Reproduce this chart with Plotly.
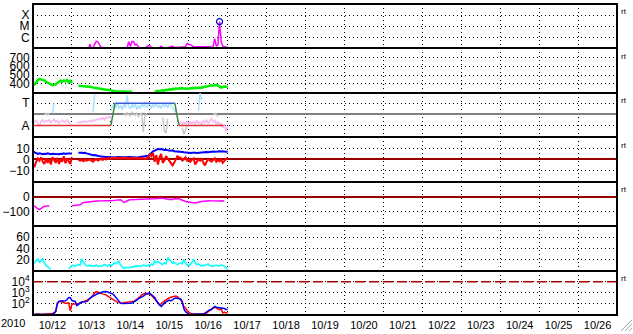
import plotly.graph_objects as go
from datetime import datetime, timedelta

# ---------------- data (hourly, hour 0 = 2010-10-12 00:00 UT) ----------------
BASE = datetime(2010, 10, 12)
X_START = "2010-10-12 00:00"
X_END = "2010-10-27 00:00"

xray_flux = [
    6e-8, 5e-8, 6e-8, 5e-8, 6e-8, 5e-8, 6e-8, 5e-8, 6e-8, 5e-8,
    6e-8, 5e-8, 6e-8, 5e-8, 6e-8, 5e-8, 6e-8, 5e-8, 6e-8, 5e-8,
    6e-8, 5e-8, 6e-8, 5e-8, 6e-8, 5e-8, 6e-8, 5e-8, 1.3e-7, 6e-8,
    5e-8, 6e-8, 5e-8, 6e-8, 5e-8, 2.4e-7, 1.1e-7, 1.2e-7, 2.5e-7, 4.5e-7,
    3.8e-7, 2.0e-7, 1.2e-7, 1.3e-7, 1.1e-7, 1.1e-7, 1.2e-7, 6e-8, 5e-8, 6e-8,
    5e-8, 6e-8, 5e-8, 6e-8, 5e-8, 6e-8, 5e-8, 6e-8, 1.1e-7, 4.0e-7,
    1.5e-7, 4.2e-7, 4.0e-7, 2.0e-7, 2.3e-7, 1.3e-7, 1.2e-7, 1.1e-7, 1.2e-7, 1.1e-7,
    1.3e-7, 1.8e-7, 1.7e-7, 1.2e-7, 1.1e-7, 1.1e-7, 1.1e-7, 1.2e-7, 1.1e-7, 1.6e-7,
    1.1e-7, 1.1e-7, 1.2e-7, 1.1e-7, 1.2e-7, 1.3e-7, 1.6e-7, 1.2e-7, 1.2e-7, 1.3e-7,
    1.2e-7, 1.3e-7, 1.2e-7, 1.3e-7, 1.4e-7, 2.8e-7, 2.5e-7, 2.2e-7, 1.8e-7, 1.4e-7,
    1.4e-7, 1.5e-7, 1.6e-7, 1.5e-7, 1.5e-7, 1.6e-7, 1.5e-7, 1.4e-7, 1.5e-7, 1.4e-7,
    1.3e-7, 1.4e-7, 7.7e-7, 1.6e-7, 2.2e-7, 2.6e-5, 4.0e-7, 1.6e-7, 1.4e-7, 1.3e-7,
    1.3e-7,
]
flare_hour = [115]
flare_flux = [2.6e-5]

wind_speed = [
    386, 395, 420, 445, 455, 450, 448, 440, 425, 415,
    400, 392, 386, 390, 395, 410, 430, 438, 425, 440,
    430, 445, 420, 435, 410, None, None, None, 380, 378,
    382, 376, 378, 372, 375, 370, 365, 360, 356, 352,
    350, 345, 345, 340, 338, 336, 335, 333, 330, 325,
    320, 316, 314, 313, 314, 312, 314, 313, 314, 312,
    314, 313, None, None, None, None, None, None, None, None,
    None, None, None, None, None, 314, 318, 322, 316, 326,
    330, 325, 335, 332, 340, 336, 345, 340, 350, 345,
    352, 348, 355, 346, 350, 345, 350, 348, 355, 352,
    358, 354, 360, 356, 360, 365, 370, 372, 378, 382,
    385, 380, 388, 390, 382, 375, 360, 365, 372, 368,
    372,
]

# sector (toward / away): observed angle segments (start hour, values)
away_segments = [
    (0, [-0.6, -0.7, -0.55, -0.8, -1.1, -0.6, -0.5, -0.7, -0.55, -0.65, -0.5, -0.75,
         -0.6, -0.45, -0.7, -0.55, -0.8, -0.6, -0.5, -0.7, -0.65, -0.5, -0.75, -0.9]),
    (27, [-0.8, -0.7, -0.75, -0.65, -0.7, -0.6, -0.7, -0.65, -0.55, -0.7, -0.5,
          -0.6, -0.45, -0.5, -0.35, -0.45, -0.3, -0.5, -0.25, -0.35, -0.2, -0.3]),
    (89, [-0.5, -0.8, -0.7, -0.9, -0.75, -0.85, -0.6, -0.9, -0.7, -0.8, -0.65, -0.9,
          -0.55, -0.8, -0.7, -0.95, -0.6, -0.75, -0.5, -0.85, -0.6, -0.4, -0.7, -0.55,
          -0.9, -0.65, -1.0, -0.8, -1.2, -0.9, -1.5, -1.1]),
]
toward_segments = [
    (12, [0.1, 1.0]),
    (37, [0.2, 1.8]),
    (48, [0.3, 0.7, 0.9, 0.6, 1.0, 0.5, 0.8, 0.4, 0.9, 0.6, 1.7, 0.7, 0.5, 0.9,
          0.6, 1.0, 0.4, 0.8, 0.5, 0.9, 0.7, 1.1, 0.6, 0.8, 1.0, 0.5, 0.9, 0.7,
          1.0, 0.6, 0.8, 0.5, 1.0, 0.7, 0.9, 0.6, 1.0, 0.8, 0.6, 0.4, 0.2]),
    (102, [0.3, 1.9, 1.3]),
]
mixed_segments = [
    (7, [-0.1, 0.1, -0.05, 0.1]),
    (56, [0.1, -0.1, 0.15, 0.0, -0.15, 0.2, 0.05, -0.1, 0.1, -0.2, 0.0, 0.1, -1.6, -0.1, 0.1]),
    (80, [-0.3, -1.5, -1.7, -0.4]),
    (92, [-1.2, -1.8, -1.4, -1.1]),
    (111, [-0.1, 0.1, 0.0, -0.2]),
]
# predicted sector polarity (hour, level: 1 = T, -1 = A)
sector_hour = [0, 48, 50.6, 87.4, 89.9, 117.4]
sector_level = [-1, -1, 1, 1, -1, -1]

bt = [
    7, 6.5, 6, 5, 5.5, 5, 4.8, 5.2, 5, 5.5,
    5, 4.8, 5.2, 5, 5.3, 5, 4.8, 5.2, 5, 5.5,
    5, 5.3, 5.5, 5.2, 5.5, None, None, None, 6, 6.2,
    6, 5.8, 6, 5.5, 5, 4.5, 4, 3.8, 4, 3.5,
    3.2, 3, 2.8, 2.5, 2.4, 2.2, 2.3, 2.1, 2, 2.1,
    2.0, 1.9, 2.2, 2.0, 1.8, 2.0, 2.1, 1.9, 2.0, 2.2,
    2.0, 1.9, 2.1, 2.0, 1.8, 2.0, 2.2, 2.1, 2.3, 2.5,
    2.8, 3.5, 4.5, 6, 7.4, 8, 9, 9.5, 9.2, 9.5,
    9, 8.5, 8.8, 8.2, 8, 7.8, 8.2, 7.5, 7.4, 7.6,
    7.2, 7, 6.8, 6.5, 6.2, 6, 6.2, 5.8, 6, 6.2,
    6, 5.8, 6, 6.3, 6.5, 6.2, 6.5, 6.8, 6.5, 6.8,
    7, 7.2, 7, 7.4, 7.2, 7.5, 7.2, 7, 7.2, 7,
    7,
]
bz = [
    -4.5, -6, -2, 1, -1, 2, -2, -4, 1, -3,
    0, -4.5, 2, -1, -3, 1.5, -4, 0, -2, 3,
    -3.5, 1, -1.5, -4, 2, None, None, None, -0.5, -1,
    -0.3, -1.5, -0.5, -1, -0.5, 0, -1, -2, -0.5, 0.5,
    -1, 0, 0.5, -0.5, 1, 0, 1.5, 0.5, 1.2, 1.5,
    1, 1.8, 1.2, 1.5, 1, 1.6, 1.2, 1.8, 1, 1.5,
    0.5, 1.2, 1.8, 1.4, 0.8, 1.5, 1, 1.6, 1.2, 0.5,
    1.5, 2, 4.5, 3, 6, -2, 4, -4.5, 2, 5,
    -3, -1, 3, 1, -2, -4, -5.3, -3, 0, 3,
    2, 1.5, -1, 0, 2, -1, 0.5, -2, 0, 1,
    -4.5, -2, 0.5, -1, 1, -3, -5.3, -2, 0.5, -1,
    -2, -0.6, 1, -2, -0.5, -1.5, 0, -3, -1, 0.5,
    1.5,
]

dst = [
    -62, -65, -75, -82, -88, -80, -70, -65, -66, -62,
    -62, None, None, None, None, None, None, None, None, None,
    None, None, None, None, -62, -60, -62, -60, -58, -56,
    -48, -40, -40, -38, -36, -35, -34, -33, -32, -30,
    -30, -28, -28, -29, -28, -29, -30, -30, -30, -28,
    -26, -24, -22, -22, -22, -30, -40, -35, -28, -24,
    -22, -22, -20, -20, -18, -18, -17, -17, -18, -17,
    -17, -16, -17, -17, -16, -15, -14, -12, -11, -11,
    -12, -15, -18, -22, -20, -18, -20, -15, -14, -13,
    -14, -20, -26, -30, -33, -36, -38, -40, -42, -44,
    -44, -40, -36, -34, -33, -32, -30, -29, -28, -28,
    -29, -30, -28, -29, -30, -30, -29, -30, -30, None,
    None,
]

index6 = [
    12, 14, 18, 21, 15, 18, 21, 14, 9, 7,
    3.5, 2, None, None, None, None, None, None, None, None,
    None, None, 3.5, 7, 9, 10, 8, 9.5, 11, 9,
    21.5, 15, 12, 9, 8, 10, 7.6, 9, 8, 10,
    7.6, 8, 9, 8.5, 11, 9, 8, 11, 9, 10,
    14, 12, 15, 17, 10, 6, 4, 5, 6, 5,
    5.5, 7, 6, 8, 7.6, 9, 7, 8, 10, 9,
    8, 10, 9, 12, 10, 18, 14, 16, 14, 12,
    10.5, 14, 12, 23, 19, 17, 13, 15, 12, 11,
    12, 14, 12, 19.7, 14, 10, 9, 11, 15, 20.5,
    14, 10.5, 12, 9, 8.5, 10, 9, 10.5, 12, 9,
    8, 7.6, 9, 10, 8, 9, 10, 9, 8, 5,
    2,
]

flux_red = [
    12, 11, 12, 13, 12, 11, 12, 12, 13, 12,
    12, 13, 14, 16, 20, 95, 166, 166, 140, 120,
    117, 117, 125, 24, 95, 100, 95, 100, 110, 125,
    145, 150, 160, 200, 250, 282, 400, 700, 1000, 1290,
    1200, 1000, 900, 800, 741, 650, 500, 400, 331, 260,
    200, 160, 145, 130, 117, 117, 125, 130, 140, 145,
    145, 150, 170, 200, 250, 320, 450, 646, 800, 912,
    850, 800, 741, 600, 400, 234, 160, 120, 83, 100,
    150, 186, 230, 300, 350, 398, 450, 501, 501, 450,
    350, 234, 150, 59, 40, 25, 18, 15, 12, 12,
    13, 12, 12, 13, 12, 14, 13, 15, 20, 25,
    36, 45, 48, 40, 36, 30, 36, 15, 18, 15,
    16,
]
flux_blue = [
    11, 10.5, 11, 11.5, 11, 10.5, 11, 11, 11.5, 11,
    11, 11, 11.5, 14, 21, 120, 166, 186, 190, 180,
    186, 250, 380, 360, 200, 186, 166, 72, 90, 120,
    145, 150, 145, 160, 200, 331, 400, 500, 600, 700,
    850, 912, 1100, 1250, 1290, 1290, 1250, 1000, 912, 800,
    600, 400, 282, 200, 117, 110, 115, 117, 117, 117,
    117, 120, 140, 170, 220, 300, 350, 380, 500, 646,
    800, 912, 912, 700, 500, 380, 200, 120, 80, 59,
    90, 117, 150, 186, 220, 186, 250, 300, 331, 300,
    282, 282, 150, 36, 20, 15, 12, 11, 11, 11,
    12, 11, 11, 12, 11, 12, 15, 20, 25, 30,
    30, 48, 59, 50, 48, 45, 40, 42, 38, 32,
    32,
]
flux_threshold = 1e4

date_labels_year = "2010"
right_tag = "rt"

# ---------------- helpers ----------------
def to_dt(hours):
    return [BASE + timedelta(hours=h) for h in hours]

HOURS = list(range(len(wind_speed)))
T = to_dt(HOURS)


def seg_xy(segments):
    xs, ys = [], []
    for start, vals in segments:
        xs += to_dt([start + i for i in range(len(vals))]) + [None]
        ys += list(vals) + [None]
    return xs, ys


fig = go.Figure()


def add(x, y, panel, color, width=1.5, dash=None):
    ax = "" if panel == 1 else str(panel)
    line = dict(color=color, width=width)
    if dash:
        line["dash"] = dash
    fig.add_trace(go.Scatter(x=x, y=y, mode="lines", line=line,
                             xaxis="x" + ax, yaxis="y" + ax, showlegend=False,
                             hoverinfo="skip", connectgaps=False))


# panel 1: X-ray
add(T, xray_flux, 1, "#ff00ff", 1.5)
fig.add_trace(go.Scatter(x=to_dt(flare_hour), y=flare_flux, mode="markers",
                         marker=dict(symbol="circle-open", size=6, color="#0000cc",
                                     line=dict(width=1.2, color="#0000cc")),
                         xaxis="x", yaxis="y", showlegend=False, hoverinfo="skip"))
# panel 2: wind speed
add(T, wind_speed, 2, "#00ee00", 2.5)
# panel 3: sector
for segs, col in ((mixed_segments, "#c8c8c8"), (away_segments, "#f7b6ee"),
                  (toward_segments, "#a6e2ff")):
    xs, ys = seg_xy(segs)
    add(xs, ys, 3, col, 1.5)
seg_colors = ["#e03030", "#3a8a3a", "#3b5bdb", "#3a8a3a", "#e03030"]
for i, col in enumerate(seg_colors):
    add(to_dt(sector_hour[i:i + 2]), sector_level[i:i + 2], 3, col, 1.5)
# panel 4: Bt / Bz
add(T, bt, 4, "#0000ff", 2)
add(T, bz, 4, "#ff0000", 2)
# panel 5: Dst
add(T, dst, 5, "#ff00ff", 1.5)
# panel 6
add(T, index6, 6, "#00ffff", 1.5)
# panel 7: particle flux
add([X_START, X_END], [flux_threshold, flux_threshold], 7, "#aa0000", 1.5, dash="10px,4px")
add(T, flux_red, 7, "#ff0000", 1.5)
add(T, flux_blue, 7, "#0000ff", 1.5)

# ---------------- layout ----------------
W, H = 633, 334
ML, MR, MT, MB = 33, 16, 3, 17
PW, PH = W - ML - MR, H - MT - MB
N = 7
FONT = "Liberation Sans, Arial, sans-serif"
GRID = dict(showgrid=True, gridcolor="black", gridwidth=1, griddash="1px,3px")
BORDER = dict(showline=True, linecolor="black", linewidth=1, mirror=True)

yspecs = {
    1: dict(type="log", range=[-7, -3], tickvals=[1e-6, 1e-5, 1e-4], ticktext=["C", "M", "X"]),
    2: dict(range=[300, 800], tickvals=[400, 500, 600, 700]),
    3: dict(range=[-2.07, 1.93], tickvals=[-1, 1], ticktext=["A", "T"],
            zeroline=True, zerolinecolor="#808080", zerolinewidth=2),
    4: dict(range=[-20, 20], tickvals=[-10, 0, 10], zeroline=True,
            zerolinecolor="#990000", zerolinewidth=1.5),
    5: dict(range=[-200, 100], tickvals=[-100, 0], zeroline=True,
            zerolinecolor="#990000", zerolinewidth=1.5),
    6: dict(range=[0, 80], tickvals=[20, 40, 60]),
    7: dict(type="log", range=[1, 5], tickvals=[100, 1000, 10000],
            ticktext=["10<sup>2</sup>", "10<sup>3</sup>", "10<sup>4</sup>"]),
}

layout = dict(width=W, height=H, margin=dict(l=ML, r=MR, t=MT, b=MB, pad=0),
              paper_bgcolor="white", plot_bgcolor="white",
              font=dict(family=FONT, color="black", size=12), showlegend=False)

for p in range(1, N + 1):
    sx = "" if p == 1 else str(p)
    xa = dict(type="date", range=[X_START, X_END], dtick=86400000, tick0=X_START,
              tickformat="%m/%d", ticklabelmode="period", ticks="",
              showticklabels=(p == N), tickfont=dict(size=11, family=FONT),
              anchor="y" + sx, zeroline=False, fixedrange=True, **GRID, **BORDER)
    if p > 1:
        xa["matches"] = "x"
    layout["xaxis" + sx] = xa
    ya = dict(domain=[1 - p / N, 1 - (p - 1) / N], anchor="x" + sx, ticks="",
              tickfont=dict(size=12, family=FONT), zeroline=False, fixedrange=True,
              **GRID, **BORDER)
    ya.update(yspecs[p])
    layout["yaxis" + sx] = ya

fig.update_layout(**layout)

# outer frame
fig.add_shape(type="rect", xref="paper", yref="paper", x0=0, y0=0, x1=1, y1=1,
              line=dict(color="black", width=2), layer="above")


def px2paper(xp, yp):
    return (xp - ML) / PW, (H - MB - yp) / PH


# year label and right-side tags
ax_, ay_ = px2paper(13, 325)
fig.add_annotation(x=ax_, y=ay_, xref="paper", yref="paper", text=date_labels_year,
                   showarrow=False, xanchor="center", yanchor="middle",
                   font=dict(size=11, family=FONT, color="black"))
for p in (1, 2, 3, 4, 5, 7):
    top_px = MT + (p - 1) * PH / N
    tx, ty = px2paper(619, top_px + 8)
    fig.add_annotation(x=tx, y=ty, xref="paper", yref="paper", text=right_tag,
                       showarrow=False, xanchor="left", yanchor="middle",
                       font=dict(size=8, family=FONT, color="black"))

# window resize grip (decoration)
for (x0, y0, x1, y1) in ((621, 333, 632, 322), (625, 333, 632, 326), (629, 333, 632, 330)):
    a0, b0 = px2paper(x0, y0)
    a1, b1 = px2paper(x1, y1)
    fig.add_shape(type="line", xref="paper", yref="paper", x0=a0, y0=b0, x1=a1, y1=b1,
                  line=dict(color="#a0a0a0", width=1))

fig.write_html("out.html")
